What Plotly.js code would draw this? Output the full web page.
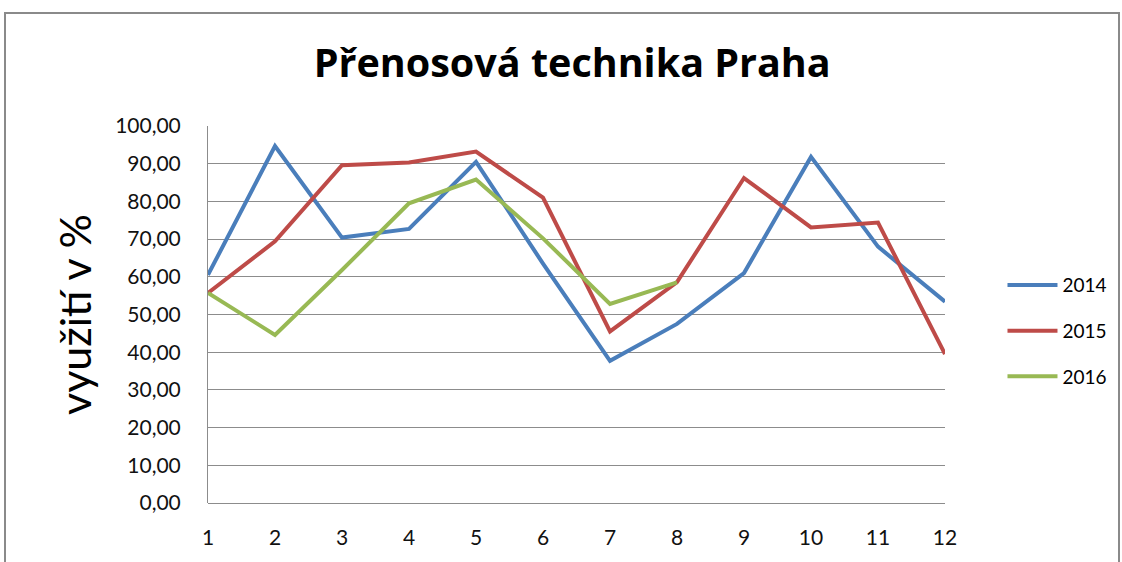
<!DOCTYPE html>
<html><head><meta charset="utf-8">
<script src="https://cdn.plot.ly/plotly-3.0.1.min.js"></script>
<style>
html,body{margin:0;padding:0;background:#fff;}
#wrap{position:relative;width:1122px;height:562px;overflow:hidden;}
#chart{position:absolute;left:0;top:0;width:1122px;height:562px;}
#frame{position:absolute;left:4px;top:12px;width:1112px;height:600px;border:2px solid #8a8a8a;pointer-events:none;}
</style></head>
<body><div id="wrap"><div id="chart"></div><div id="frame"></div></div>
<script>
const months = [1,2,3,4,5,6,7,8,9,10,11,12];
const s2014 = [60.5,94.7,70.4,72.7,90.5,63.5,37.7,47.5,61,91.8,68,53.4];
const s2015 = [55.7,69.4,89.6,90.3,93.2,81,45.5,58.6,86.2,73.1,74.4,39.5];
const s2016 = [55.7,44.6,61.8,79.5,85.8,70.2,52.8,58.5];
const names = ['2014','2015','2016'];
const colors = ['#4A7EBB','#BE4B48','#98B954'];
const font = 'Lato, "Open Sans", sans-serif';
const series = [s2014, s2015, s2016];
const traces = series.map((s,i)=>({
  x: months.slice(0, s.length), y: s, name: names[i], type:'scatter', mode:'lines',
  legendgroup:'g'+i,
  line:{color:colors[i], width:4}
}));
const layout = {
  width:1122, height:562,
  margin:{l:208, r:177, t:126, b:59, autoexpand:false},
  paper_bgcolor:'rgba(0,0,0,0)', plot_bgcolor:'#fff',
  separators:', ',
  showlegend:true,
  title:{text:'<b>Přenosová technika Praha</b>', x:0.51, xanchor:'center', y:0.888, yanchor:'middle',
    font:{family:'"Open Sans", sans-serif', size:39.5, color:'#000'}},
  legend:{x:1.078, xanchor:'left', y:0.456, yanchor:'middle', font:{family:font, size:19, color:'#000'},
    traceorder:'grouped', tracegroupgap:18, itemwidth:50, bgcolor:'rgba(0,0,0,0)'},
  xaxis:{range:[1,12], tickvals:months, ticktext:months.map(String), showgrid:false, zeroline:false,
    showline:false, ticks:'', ticklabelstandoff:20, tickfont:{family:font, size:21, color:'#111'}, fixedrange:true},
  yaxis:{range:[0,100], dtick:10, tickformat:'.2f', showgrid:true, gridcolor:'#8c8c8c', gridwidth:1,
    zeroline:true, zerolinecolor:'#8c8c8c', zerolinewidth:1,
    showline:true, linecolor:'#8c8c8c', linewidth:1, ticks:'', ticklabelstandoff:22,
    tickfont:{family:font, size:21, color:'#111'},
    title:{text:'využití v %', font:{family:font, size:43, color:'#000'}, standoff:10}}
};
Plotly.newPlot('chart', traces, layout, {staticPlot:true, displayModeBar:false});
</script></body></html>
